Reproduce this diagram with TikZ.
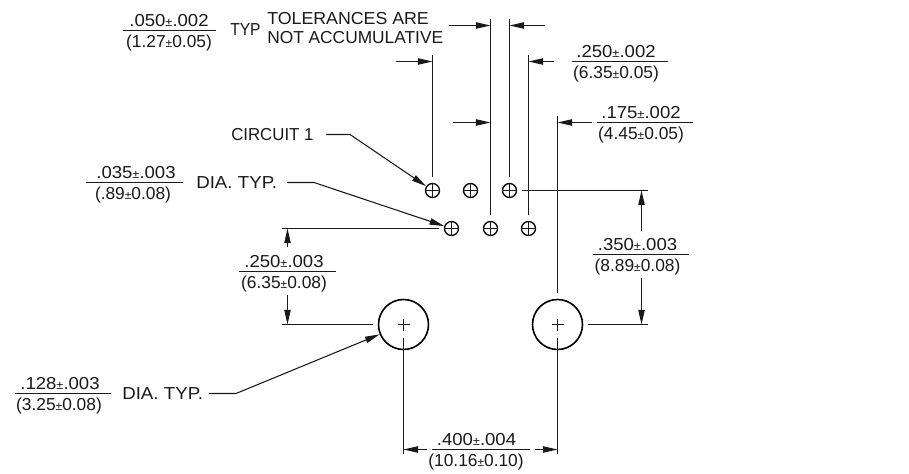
\documentclass[tikz,border=0pt]{standalone}
\usepackage{fontspec}
\setmainfont{Liberation Sans}
\usepackage{graphicx}
\usetikzlibrary{arrows.meta}
\newcommand{\pmk}{{\fontsize{9}{9}\selectfont ±}}
\newcommand{\sx}[2]{\scalebox{#1}[1]{#2}}
\colorlet{ink}{black!90}
\tikzset{
  x=.75pt,y=-.75pt,
  thinline/.style={draw=ink,line width=.8pt},
  dimarrow/.style={thinline,-{Triangle[length=11pt,width=4.8pt]}},
  hole/.style={circle,draw=black,line width=1pt,inner sep=0pt,minimum size=10.5pt},
  bighole/.style={circle,draw=black,line width=1.2pt,inner sep=0pt,minimum size=37.5pt},
  lab/.style={inner sep=0pt,text=ink,font=\fontsize{13}{13}\selectfont},
  fractop/.style={lab,anchor=south,yshift=2.4pt},
  fracbot/.style={lab,anchor=north,yshift=-2.8pt},
}
\begin{document}
\begin{tikzpicture}
\useasboundingbox (0,0) rectangle (909,474);
% holes
\node[hole] (t1) at (432.5,190.5) {}; \node[hole] (t2) at (470.5,190.5) {}; \node[hole] (t3) at (509.5,190.5) {};
\node[hole] (b1) at (451.5,228.5) {}; \node[hole] (b2) at (490.5,228.5) {}; \node[hole] (b3) at (528.5,228.5) {};
\node[bighole] (L) at (403.5,324.5) {}; \node[bighole] (R) at (557.5,324.5) {};
\foreach \h in {t1,t2,t3,b1,b2,b3}{
  \draw[thinline] (\h.west) -- (\h.east);
  \draw[thinline] (\h.north) -- (\h.south);
}
\foreach \h in {L,R}{
  \draw[thinline] ([xshift=-4.5pt]\h.center) -- ([xshift=4.5pt]\h.center);
  \draw[thinline] ([yshift=-4.5pt]\h.center) -- ([yshift=4.5pt]\h.center);
}
% extension lines
\draw[thinline] (432.5,55) -- (432.5,177);
\draw[thinline] (490.5,19) -- (490.5,215);
\draw[thinline] (509.5,19) -- (509.5,177);
\draw[thinline] (528.5,55) -- (528.5,215);
\draw[thinline] (557.5,116) -- (557.5,293);
\draw[thinline] (522,190.5) -- (648,190.5);
\draw[thinline] (588,324.5) -- (648,324.5);
\draw[thinline] (282,228.5) -- (439,228.5);
\draw[thinline] (282,324.5) -- (373,324.5);
\draw[thinline] (403.5,338) -- (403.5,454);
\draw[thinline] (557.5,338) -- (557.5,454);
% dimension arrows
\draw[dimarrow] (396,61.5) -- (432.5,61.5);
\draw[dimarrow] (449,25.5) -- (490.5,25.5);
\draw[dimarrow] (453,122.5) -- (490.5,122.5);
\draw[dimarrow] (545,25.5) -- (509.5,25.5);
\draw[dimarrow] (554,61.5) -- (528.5,61.5);
\draw[dimarrow] (592,122.5) -- (557.5,122.5);
\draw[dimarrow] (641.5,231) -- (641.5,190.5);
\draw[dimarrow] (641.5,278) -- (641.5,324.5);
\draw[dimarrow] (287.5,247) -- (287.5,228.5);
\draw[dimarrow] (287.5,295) -- (287.5,324.5);
\draw[dimarrow] (427,449.5) -- (403.5,449.5);
\draw[dimarrow] (535,449.5) -- (557.5,449.5);
% fractions
\foreach \n/\xa/\xb/\y in {
  fa/123/216/30.5,
  fb/572/668/61.5,
  fc/597/693/122.5,
  fd/86/183/182.5,
  fe/239/336/271.5,
  ff/593/689/254.5,
  fg/15/111/393.5,
  fh/432/530/449.5}{
  \coordinate (\n l) at (\xa,\y);
  \coordinate (\n r) at (\xb,\y);
  \draw[thinline] (\n l) -- (\n r);
}
\node[fractop] (ta) at (169,30.5) {\sx{1.07}{.050\pmk .002}};
\node[fracbot] (ba) at (169,30.5) {(1.27\pmk 0.05)};
\node[fractop] (tb) at (616,61.5) {\sx{1.07}{.250\pmk .002}};
\node[fracbot] (bb) at (616,61.5) {(6.35\pmk 0.05)};
\node[fractop] (tc) at (641,122.5) {\sx{1.07}{.175\pmk .002}};
\node[fracbot] (bc) at (641,122.5) {(4.45\pmk 0.05)};
\node[fractop] (td) at (136,182.5) {\sx{1.07}{.035\pmk .003}};
\node[fracbot] (bd) at (133,182.5) {(.89\pmk 0.08)};
\node[fractop] (te) at (284,271.5) {\sx{1.07}{.250\pmk .003}};
\node[fracbot] (be) at (284,271.5) {(6.35\pmk 0.08)};
\node[fractop] (tf) at (637.5,254.5) {\sx{1.07}{.350\pmk .003}};
\node[fracbot] (bf) at (637.5,254.5) {(8.89\pmk 0.08)};
\node[fractop] (tg) at (60,393.5) {\sx{1.07}{.128\pmk .003}};
\node[fracbot] (bg) at (59,393.5) {(3.25\pmk 0.08)};
\node[fractop] (th) at (476.5,449.5) {\sx{1.07}{.400\pmk .004}};
\node[fracbot] (bh) at (476,449.5) {(10.16\pmk 0.10)};
% labels
\node[lab,anchor=west] (typ) at (230,29.5) {\sx{.9}{TYP}};
\node[lab,anchor=west] (n1) at (267,19) {\sx{1.025}{TOLERANCES ARE}};
\node[lab,anchor=west] (n2) at (267,38) {NOT ACCUMULATIVE};
\node[lab,anchor=west] (cir) at (231,134.5) {\sx{.97}{CIRCUIT 1}};
\node[lab,anchor=west] (dia1) at (196,182.5) {\sx{1.08}{DIA. TYP.}};
\node[lab,anchor=west] (dia2) at (122,393.5) {\sx{1.08}{DIA. TYP.}};
% leaders
\coordinate (c1) at (326,134.5); \coordinate (c2) at (350,134.5);
\coordinate (d1) at (287,182.5); \coordinate (d2) at (314,182.5);
\coordinate (e1) at (209,393.5); \coordinate (e2) at (236,393.5);
\draw[dimarrow] (c1) -- (c2) -- (t1);
\draw[dimarrow] (d1) -- (d2) -- (b1);
\draw[dimarrow] (e1) -- (e2) -- (L);
\end{tikzpicture}
\end{document}
